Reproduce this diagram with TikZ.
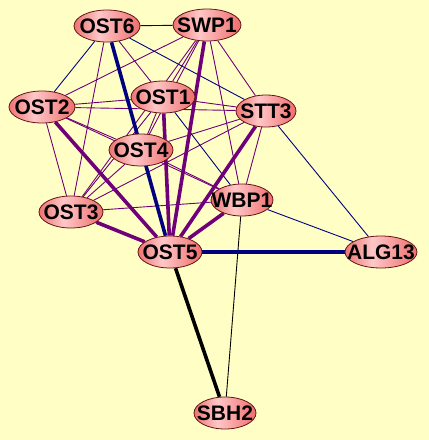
\documentclass[tikz,border=0pt]{standalone}
\usepackage{fontspec}
\setmainfont{Liberation Sans}
\usetikzlibrary{shapes.geometric,backgrounds}
\definecolor{canvas}{RGB}{255,255,197}
\definecolor{purp}{RGB}{112,0,122}
\definecolor{navy}{RGB}{0,0,128}
\definecolor{nodeline}{RGB}{100,20,20}
\pgfdeclarehorizontalshading{protshade}{100bp}{
  rgb(0bp)=(0.93,0.45,0.45); rgb(25bp)=(0.93,0.45,0.45);
  rgb(44bp)=(1,0.78,0.78); rgb(72bp)=(0.94,0.46,0.46);
  rgb(100bp)=(0.90,0.26,0.26)}

\begin{document}
\begin{tikzpicture}[x=1pt,y=-1pt,
  prot/.style={ellipse,draw=nodeline,line width=0.8pt,shading=protshade,
               minimum width=64pt,minimum height=32pt,inner xsep=-9pt,
               inner ysep=-1pt,font=\bfseries\fontsize{21}{21}\selectfont},
  weak/.style={purp,line width=0.9pt},
  weakb/.style={navy,line width=0.9pt},
  strong/.style={purp,line width=3.6pt},
  strongb/.style={navy,line width=3.6pt}
]
\useasboundingbox (0,0) rectangle (429,440);
% Top row
\node[prot,minimum width=66pt] (ost6) at (107,26)  {OST6};
\node[prot,minimum width=68pt] (swp1) at (207,25)  {SWP1};
% Middle cluster
\node[prot,minimum width=66pt] (ost2) at (42,107)  {OST2};
\node[prot]                    (ost1) at (163,97)  {OST1};
\node[prot,minimum width=60pt] (stt3) at (266,111) {STT3};
\node[prot]                    (ost4) at (141,150) {OST4};
\node[prot]                    (ost3) at (71,212)  {OST3};
\node[prot,minimum width=62pt] (wbp1) at (242,200) {WBP1};
% Hub and outliers
\node[prot]                    (ost5) at (170,252) {OST5};
\node[prot,minimum width=72pt] (alg13) at (381,252) {ALG13};
\node[prot,minimum width=62pt] (sbh2) at (225,413) {SBH2};

\begin{scope}[on background layer]
\fill[canvas] (0,0) rectangle (429,440);
% thin purple links
\draw[weak] (ost6) -- (ost1);
\draw[weak] (ost6) -- (ost3);
\draw[weak] (ost2) -- (swp1);
\draw[weak] (ost2) -- (ost1);
\draw[weak] (ost2) -- (stt3);
\draw[weak] (ost2) -- (ost3);
\draw[weak] (ost2) -- (ost4);
\draw[weak] (ost2) -- (wbp1);
\draw[weak] (ost3) -- (ost4);
\draw[weak] (ost3) -- (ost1);
\draw[weak] (ost3) -- (swp1);
\draw[weak] (ost3) -- (stt3);
\draw[weak] (ost3) -- (wbp1);
\draw[weak] (ost4) -- (ost1);
\draw[weak] (ost4) -- (swp1);
\draw[weak] (ost4) -- (stt3);
\draw[weak] (ost4) -- (wbp1);
\draw[weak] (ost1) -- (swp1);
\draw[weak] (ost1) -- (stt3);
\draw[weak] (swp1) -- (stt3);
\draw[weak] (swp1) -- (wbp1);
\draw[weak] (stt3) -- (wbp1);
% thin blue and black links
\draw[weakb] (ost6) -- (swp1);
\draw[weakb] (ost6) -- (ost2);
\draw[weakb] (ost6) -- (stt3);
\draw[weakb] (ost1) -- (wbp1);
\draw[weakb] (stt3) -- (alg13);
\draw[weakb] (wbp1) -- (alg13);
\draw[black,line width=0.9pt] (wbp1) -- (sbh2);
% heavy links into OST5
\draw[strong] (ost5) -- (ost2);
\draw[strong] (ost5) -- (ost3);
\draw[strong] (ost5) -- (ost1);
\draw[strong] (ost5) -- (swp1);
\draw[strong] (ost5) -- (stt3);
\draw[strong] (ost5) -- (wbp1);
\draw[strongb] (ost6) -- (ost5);
\draw[strongb] (ost5) -- (alg13);
\draw[black,line width=3.6pt] (ost5) -- (sbh2);
\end{scope}
\end{tikzpicture}
\end{document}
